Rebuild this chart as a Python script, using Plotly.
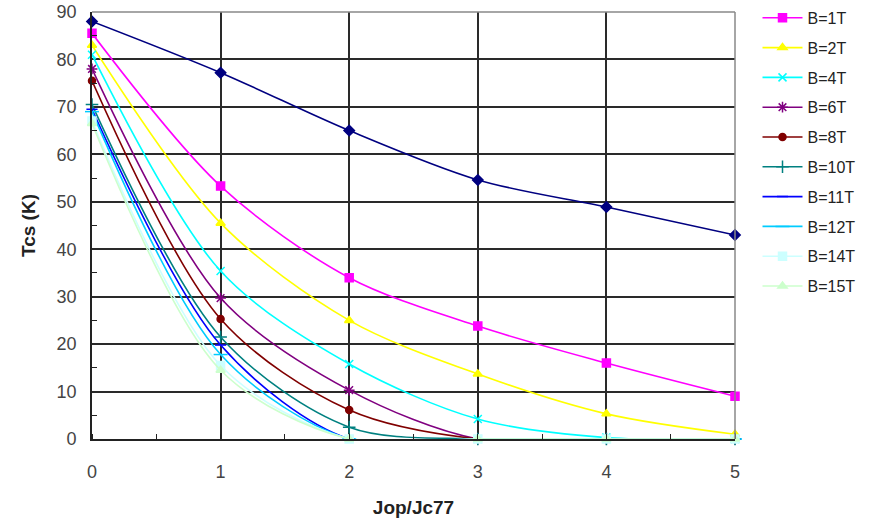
import plotly.graph_objects as go

x_vals = [0, 1, 2, 3, 4, 5]

series_names = ["B=0T", "B=1T", "B=2T", "B=4T", "B=6T", "B=8T",
                "B=10T", "B=11T", "B=12T", "B=14T", "B=15T"]

b0 = [88.0, 77.2, 65.0, 54.6, 48.9, 43.0]
b1 = [85.5, 53.3, 34.0, 23.8, 16.0, 9.0]
b2 = [83.0, 45.5, 25.0, 13.7, 5.3, 1.0]
b4 = [81.0, 35.4, 15.8, 4.2, 0.3, 0.0]
b6 = [78.0, 29.7, 10.3, 0.0, 0.0, 0.0]
b8 = [75.5, 25.3, 6.1, 0.0, 0.0, 0.0]
b10 = [70.5, 21.5, 2.5, 0.0, 0.0, 0.0]
b11 = [69.5, 19.8, 0.0, 0.0, 0.0, 0.0]
b12 = [69.0, 17.8, 0.0, 0.0, 0.0, 0.0]
b14 = [67.0, 15.5, 0.0, 0.0, 0.0, 0.0]
b15 = [66.5, 14.5, 0.0, 0.0, 0.0, 0.0]

series_values = [b0, b1, b2, b4, b6, b8, b10, b11, b12, b14, b15]

colors = ["#000080", "#FF00FF", "#FFFF00", "#00FFFF", "#800080", "#800000",
          "#008080", "#0000FF", "#00CCFF", "#CCFFFF", "#CCFFCC"]
symbols = ["diamond", "square", "triangle-up", "x-thin-open", "asterisk-open",
           "circle", "cross-thin-open", "line-ew-open", "line-ew-open",
           "square", "triangle-up"]
sizes = [8, 8, 8, 8, 9, 7, 9, 8, 10, 8, 8]

fig = go.Figure()
for i, (name, vals) in enumerate(zip(series_names, series_values)):
    fig.add_trace(go.Scatter(
        x=x_vals, y=vals, name=name, mode="lines+markers",
        line=dict(color=colors[i], width=1.6, shape="spline", smoothing=0.9),
        marker=dict(symbol=symbols[i], size=sizes[i], color=colors[i],
                    line=dict(color=colors[i], width=1.5)),
        cliponaxis=False, legendgroup=name, showlegend=(i != 0),
    ))

fig.update_layout(
    width=882, height=521,
    margin=dict(l=92, r=147, t=12, b=82, autoexpand=False),
    paper_bgcolor="white", plot_bgcolor="white",
    font=dict(family="Liberation Sans, Arial, sans-serif", color="#333333"),
    showlegend=True,
    legend=dict(x=1.035, y=1.026, xanchor="left", yanchor="top",
                font=dict(size=16, color="#222222"),
                tracegroupgap=6, itemwidth=40, maxheight=500,
                bgcolor="rgba(0,0,0,0)"),
)

fig.update_xaxes(
    range=[0, 5], tickvals=x_vals, ticktext=[str(v) for v in x_vals],
    showgrid=True, gridcolor="#2a2a2a", gridwidth=1.8,
    showline=True, linecolor="#222222", linewidth=1.8, mirror=False,
    ticks="", tickfont=dict(size=18, color="#444444"),
    ticklabelstandoff=15,
    minor=dict(dtick=0.5, ticks="inside", ticklen=5, tickcolor="#222222",
               showgrid=False),
    title=dict(text="<b>Jop/Jc77</b>", font=dict(size=19, color="#222222"),
               standoff=20),
    zeroline=False,
)
fig.update_yaxes(
    range=[0, 90], dtick=10,
    showgrid=True, gridcolor="#2a2a2a", gridwidth=1.8,
    showline=True, linecolor="#222222", linewidth=1.8,
    ticks="", tickfont=dict(size=18, color="#444444"),
    ticklabelstandoff=10,
    minor=dict(dtick=5, ticks="inside", ticklen=5, tickcolor="#222222",
               showgrid=False),
    title=dict(text="<b>Tcs (K)</b>", font=dict(size=19, color="#222222"),
               standoff=16),
    zeroline=False,
)

# gray frame on top and right
fig.add_shape(type="line", xref="paper", yref="paper", x0=0, x1=1, y0=1, y1=1,
              line=dict(color="#888888", width=1.5))
fig.add_shape(type="line", xref="paper", yref="paper", x0=1, x1=1, y0=0, y1=1,
              line=dict(color="#888888", width=1.5))

fig.write_html("out.html")
